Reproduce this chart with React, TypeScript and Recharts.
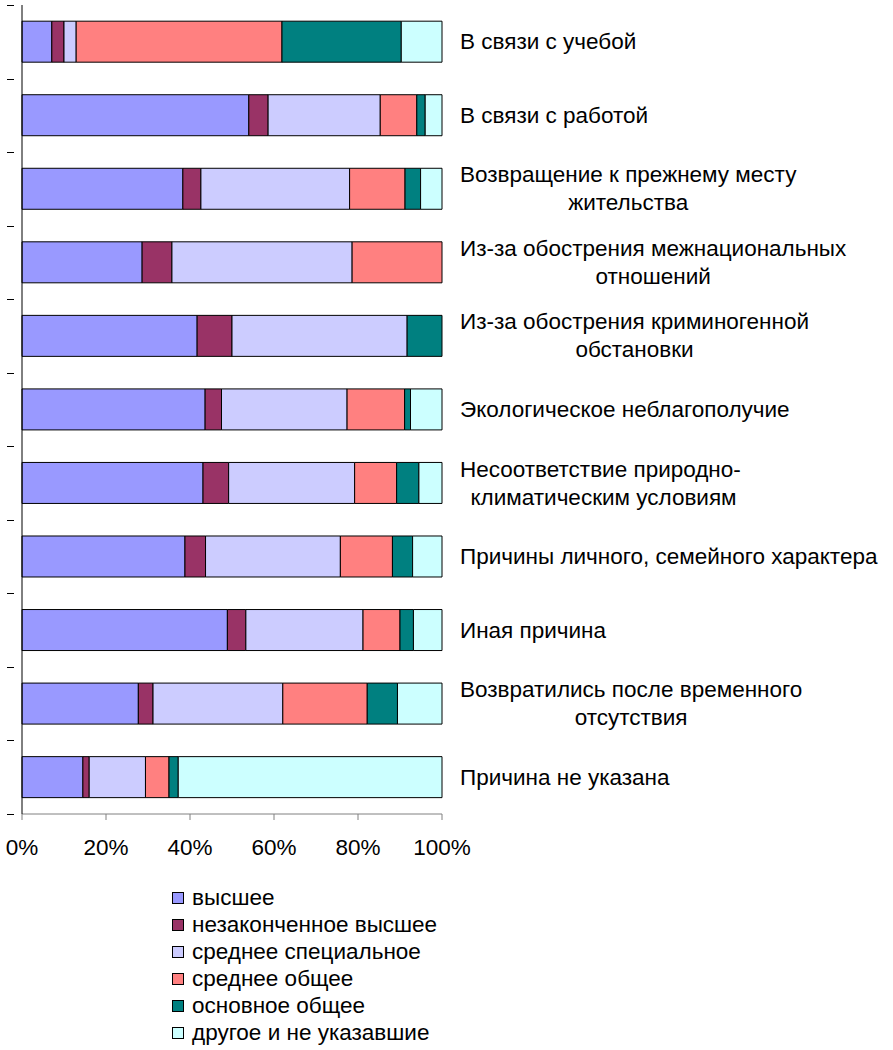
import { BarChart, Bar, XAxis, YAxis } from 'recharts';

const categories = [
    'В связи с учебой',
    'В связи с работой',
    'Возвращение к прежнему месту\nжительства',
    'Из-за обострения межнациональных\nотношений',
    'Из-за обострения криминогенной\nобстановки',
    'Экологическое неблагополучие',
    'Несоответствие природно-\n климатическим условиям',
    'Причины личного, семейного характера',
    'Иная причина',
    'Возвратились после временного\nотсутствия',
    'Причина не указана',
];

const higher = [7.1, 54.0, 38.3, 28.6, 41.7, 43.6, 43.1, 38.8, 48.9, 27.7, 14.5];
const unfinishedHigher = [2.9, 4.6, 4.3, 7.1, 8.3, 3.9, 6.1, 4.9, 4.4, 3.5, 1.5];
const secondarySpecial = [2.9, 26.7, 35.4, 42.9, 41.7, 29.9, 30.0, 32.1, 27.9, 30.9, 13.4];
const secondaryGeneral = [49.0, 8.7, 13.2, 21.4, 0, 13.7, 10.0, 12.4, 8.8, 20.1, 5.6];
const basicGeneral = [28.4, 2.0, 3.7, 0, 8.3, 1.4, 5.3, 4.8, 3.2, 7.2, 2.2];
const otherNone = [9.7, 4.0, 5.1, 0, 0, 7.5, 5.5, 7.0, 6.8, 10.6, 62.8];

const xTicks = [0, 20, 40, 60, 80, 100];

const series = [
    { key: 'higher', name: 'высшее', color: '#9999FF', values: higher },
    { key: 'unfinishedHigher', name: 'незаконченное высшее', color: '#993366', values: unfinishedHigher },
    { key: 'secondarySpecial', name: 'среднее специальное', color: '#CCCCFF', values: secondarySpecial },
    { key: 'secondaryGeneral', name: 'среднее общее', color: '#FF8080', values: secondaryGeneral },
    { key: 'basicGeneral', name: 'основное общее', color: '#008080', values: basicGeneral },
    { key: 'otherNone', name: 'другое и не указавшие', color: '#CCFFFF', values: otherNone },
];

const data = categories.map((name, i) => {
    const row: Record<string, any> = { name };
    series.forEach(s => { row[s.key] = s.values[i]; });
    return row;
});

const FONT = '"Liberation Sans", Arial, sans-serif';
const FONT_SIZE = 22.5;
const CHART_H = 870;
const TOP = 5;
const X_AXIS_H = 56;
const BAND = (CHART_H - TOP - X_AXIS_H) / categories.length;
const LABEL_X = 460;

let ctx: CanvasRenderingContext2D | null = null;
function textWidth(s: string) {
    if (!ctx) ctx = document.createElement('canvas').getContext('2d');
    if (!ctx) return s.length * FONT_SIZE * 0.5;
    ctx.font = `${FONT_SIZE}px ${FONT}`;
    return ctx.measureText(s).width;
}

const snap = (v: number) => Math.round(v) + 0.5;

// left axis: boundary tick marks; the category text goes to the right of the plot
const CategoryTick = (props: any) => {
    const { x, y, payload, index } = props;
    const lines = String(payload.value).split('\n');
    const cx = LABEL_X + textWidth(lines[0]) / 2;
    const y0 = y - (lines.length - 1) * 14;
    return (
        <g>
            <line x1={x - 7} x2={x} y1={snap(y - BAND / 2)} y2={snap(y - BAND / 2)} stroke="#000" />
            {index === categories.length - 1 && (
                <line x1={x - 7} x2={x} y1={snap(y + BAND / 2)} y2={snap(y + BAND / 2)} stroke="#000" />
            )}
            {lines.map((l, i) => (
                <text key={i} x={cx} y={y0 + i * 28} textAnchor="middle" dominantBaseline="central"
                    fontSize={FONT_SIZE} fontFamily={FONT} fill="#000" style={{ whiteSpace: 'pre' }}>
                    {l}
                </text>
            ))}
        </g>
    );
};

export default function App() {
    return (
        <div style={{ position: 'absolute', left: 0, top: 0, width: 893, height: 1050, background: '#fff', fontFamily: FONT }}>
            <BarChart width={893} height={CHART_H} data={data} layout="vertical"
                margin={{ top: TOP, right: 451, bottom: 0, left: 0 }} barCategoryGap="22%">
                <XAxis type="number" domain={[0, 100]} ticks={xTicks} tickFormatter={(v: number) => `${v}%`}
                    height={X_AXIS_H} axisLine={{ stroke: '#808080' }} tickLine={{ stroke: '#808080' }} tickSize={6}
                    tickMargin={19} tick={{ fill: '#000', fontSize: FONT_SIZE, fontFamily: FONT }} interval={0} />
                <YAxis type="category" dataKey="name" width={22} axisLine={{ stroke: '#000' }} tickLine={false}
                    tick={<CategoryTick />} interval={0} />
                {series.map(s => (
                    <Bar key={s.key} dataKey={s.key} name={s.name} stackId="a" fill={s.color}
                        stroke="#000" strokeWidth={1} isAnimationActive={false} />
                ))}
            </BarChart>
            <div style={{ position: 'absolute', left: 172, top: 884 }}>
                {series.map(s => (
                    <div key={s.key} style={{ display: 'flex', alignItems: 'center', height: 27, fontSize: FONT_SIZE }}>
                        <span style={{ display: 'inline-block', width: 10, height: 10, background: s.color, border: '1px solid #000', marginRight: 8 }} />
                        <span>{s.name}</span>
                    </div>
                ))}
            </div>
        </div>
    );
}
